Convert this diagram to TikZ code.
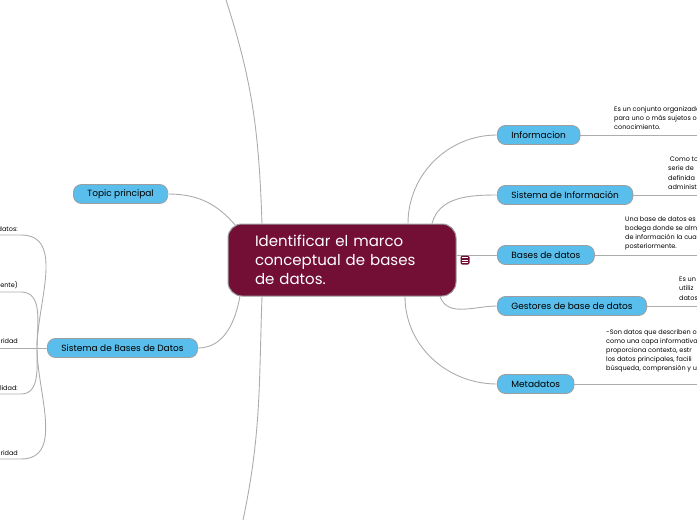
\documentclass[tikz,border=0pt]{standalone}
\usepackage{fontspec}
\setmainfont{Poppins}
\usetikzlibrary{positioning}

\definecolor{rootred}{RGB}{115,14,52}
\definecolor{topicblue}{RGB}{89,190,236}
\definecolor{rimgray}{RGB}{158,158,158}
\definecolor{linkgray}{RGB}{172,172,172}

\begin{document}
\begin{tikzpicture}[x=1pt,y=-1pt,
    root/.style={draw=rimgray, line width=1pt, fill=rootred, text=white, rounded corners=14pt,
        minimum height=72pt, text width=174pt, inner xsep=27pt, align=left,
        font=\fontsize{15}{18.7}\selectfont},
    topic/.style={draw=rimgray, line width=0.8pt, fill=topicblue, rounded corners=8pt,
        minimum height=19pt, inner xsep=14pt, inner ysep=0pt, anchor=west, font=\fontsize{9}{10}\selectfont},
    link/.style={draw=linkgray, line width=0.9pt},
    note/.style={inner sep=0pt, align=left, font=\fontsize{6.5}{9.2}\selectfont},
    noteicon/.style={fill=rootred, rounded corners=1.5pt, minimum size=9pt, inner sep=0pt}]
    \useasboundingbox (0,0) rectangle (697,520);
    \clip (0,0) rectangle (697,520);

    % Central topic
    \node[root] (center) at (342,260) {Identificar el marco\\conceptual de bases\\de datos.};

    % Branches on the right
    \node[topic] (info) at (497,135) {Informacion};
    \node[topic] (sisinfo) at (497,195) {Sistema de Información};
    \node[topic] (bases) at (497,255) {Bases de datos};
    \node[topic] (gestores) at (497,306) {Gestores de base de datos};
    \node[topic] (meta) at (497,384) {Metadatos};

    % Branches on the left
    \node[topic] (topic) at (73,194) {Topic principal};
    \node[topic] (sbd) at (47,348) {Sistema de Bases de Datos};

    % Links from the central topic
    \draw[link] ([xshift=66pt]center.north) to[out=90,in=180] (info.west);
    \draw[link] ([xshift=90pt]center.north) to[out=75,in=180] (sisinfo.west);
    \draw[link] (center.east |- bases.west) -- (bases.west);
    \draw[link] ([xshift=98pt]center.south) to[out=-70,in=180] (gestores.west);
    \draw[link] ([xshift=63pt]center.south) to[out=-90,in=180] (meta.west);
    \draw[link] (topic.east) to[out=0,in=130] (236,226);
    \draw[link] (sbd.east) to[out=0,in=-100] (240,296);

    % Links that leave the picture
    \coordinate (offtop) at (226,0);
    \coordinate (offbottom) at (243,520);
    \draw[link] ([xshift=-80pt]center.north) to[out=92,in=-72] (offtop);
    \draw[link] ([xshift=-80pt]center.south) to[out=-92,in=78] (offbottom);

    % Notes on the right
    \foreach \n/\y in {info/135, sisinfo/195, bases/255, gestores/306, meta/384}
        \draw[link] (\n.east) -- (697,\y);
    \node[note, anchor=north west] (infotext) at (614,106)
        {Es un conjunto organizado\\para uno o más sujetos o\\conocimiento.};
    \node[note, anchor=north west] (sisinfotext) at (668,157)
        {\ Como to\\serie de\\definida\\administ};
    \node[note, anchor=north west] (basestext) at (625,216)
        {Una base de datos es\\bodega donde se alm\\de información la cual\\posteriormente.};
    \node[note, anchor=north west] (gestorestext) at (679,277)
        {Es un\\utiliz\\datos};
    \node[note, anchor=north west] (metatext) at (606,329)
        {-Son datos que describen o\\como una capa informativa\\proporciona contexto, estr\\los datos principales, facili\\búsqueda, comprensión y u};

    % Notes on the left
    \draw[link] (sbd.west) -- (0,348);
    \foreach \y/\o in {235/90, 292/90, 394/-90, 459/-90}
        \draw[link] (37,348) to[out=\o,in=0] (21,\y) -- (0,\y);
    \node[note, anchor=south east] (lefta) at (18,232) {datos:};
    \node[note, anchor=south east] (leftb) at (18,289) {rente)};
    \node[note, anchor=south east] (leftc) at (18,344) {ridad};
    \node[note, anchor=south east] (leftd) at (18,391) {lidad:};
    \node[note, anchor=south east] (lefte) at (18,456) {ridad};

    % Note icon
    \node[noteicon] (icon) at (465,260) {};
    \foreach \k in {-2.2,0,2.2}
        \draw[white, line width=0.8pt] ([xshift=-2.6pt,yshift=\k pt]icon.center) -- ([xshift=2.6pt,yshift=\k pt]icon.center);
\end{tikzpicture}
\end{document}
